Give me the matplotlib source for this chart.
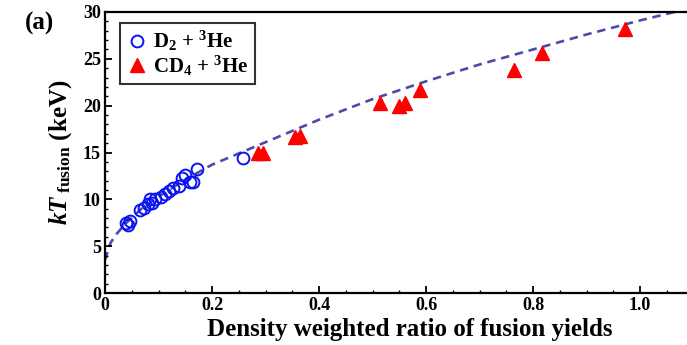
import matplotlib
matplotlib.use("Agg")
import matplotlib.pyplot as plt
from matplotlib.ticker import MultipleLocator, FuncFormatter

plt.rcParams['font.family'] = 'Liberation Serif'
plt.rcParams['font.weight'] = 'bold'
plt.rcParams['mathtext.fontset'] = 'custom'
plt.rcParams['mathtext.rm'] = 'Liberation Serif:bold'
plt.rcParams['mathtext.it'] = 'Liberation Serif:italic:bold'
plt.rcParams['mathtext.bf'] = 'Liberation Serif:bold'

# D2 + 3He points (open circles)
d2_x = [0.040, 0.043, 0.046, 0.065, 0.072, 0.080, 0.084, 0.088, 0.094, 0.105,
        0.112, 0.120, 0.128, 0.138, 0.143, 0.150, 0.158, 0.165, 0.172, 0.257]
d2_y = [7.5, 7.3, 7.7, 8.9, 9.1, 9.5, 10.0, 9.6, 10.0, 10.3,
        10.6, 10.9, 11.2, 11.4, 12.3, 12.6, 11.9, 11.8, 13.2, 14.4]

# CD4 + 3He points (filled triangles)
cd4_x = [0.285, 0.295, 0.355, 0.365, 0.514, 0.550, 0.560, 0.589, 0.765, 0.816, 0.971]
cd4_y = [15.0, 15.0, 16.7, 16.8, 20.3, 20.0, 20.3, 21.7, 23.8, 25.6, 28.2]

# dashed fit curve
fit_x = [0, 0.01, 0.02, 0.04, 0.07, 0.10, 0.15, 0.20, 0.25, 0.30, 0.40,
         0.50, 0.60, 0.70, 0.80, 0.90, 1.00, 1.05, 1.10]
fit_y = [3.5, 5.3, 6.2, 7.5, 9.1, 10.3, 12.1, 13.7, 14.9, 16.1, 18.5,
         20.7, 22.6, 24.4, 26.0, 27.6, 29.1, 29.8, 30.5]

fig = plt.figure(figsize=(6.87, 3.45), dpi=100)
# the original axes runs past the right edge of the picture
ax = fig.add_axes([105 / 687, 52 / 345, 610 / 687, 281 / 345])

ax.plot(fit_x, fit_y, linestyle=(0, (3.2, 2.2)), color='#4b4bab', lw=1.9, zorder=1)
ax.plot(d2_x, d2_y, 'o', mfc='none', mec='#0a14f0', mew=1.4, ms=8.5,
        linestyle='none', label=r'D$_2$ + $^3$He', zorder=3)
ax.plot(cd4_x, cd4_y, '^', color='#ff0000', ms=9.5,
        linestyle='none', label=r'CD$_4$ + $^3$He', zorder=2)

ax.set_xlim(0, 1.14)
ax.set_ylim(0, 30)
ax.xaxis.set_major_locator(MultipleLocator(0.2))
ax.xaxis.set_minor_locator(MultipleLocator(0.05))
ax.yaxis.set_major_locator(MultipleLocator(5))
ax.yaxis.set_minor_locator(MultipleLocator(1))
ax.xaxis.set_major_formatter(FuncFormatter(lambda v, p: '0' if abs(v) < 1e-9 else f'{v:.1f}'))
ax.tick_params(which='major', direction='in', length=5, width=1.3, labelsize=13, pad=3)
ax.tick_params(which='minor', direction='in', length=2.5, width=1.0)
for s in ax.spines.values():
    s.set_linewidth(1.6)

ax.set_xlabel('Density weighted ratio of fusion yields', fontsize=18, fontweight='bold', labelpad=3)
ax.set_ylabel(r'$kT_{\ \mathrm{fusion}}$ (keV)', fontsize=18, fontweight='bold', labelpad=6)

leg = ax.legend(loc='upper left', bbox_to_anchor=(15 / 610, 1 - 11 / 281), fontsize=15,
                frameon=True, fancybox=False, edgecolor='black', borderpad=0.3,
                handletextpad=0.3, handlelength=1.0, labelspacing=0.0, borderaxespad=0)
leg.get_frame().set_linewidth(1.5)

fig.text(40 / 687, 1 - 23 / 345, '(a)', fontsize=18, fontweight='bold', ha='center', va='center')

fig.savefig('out.png', dpi=100)
